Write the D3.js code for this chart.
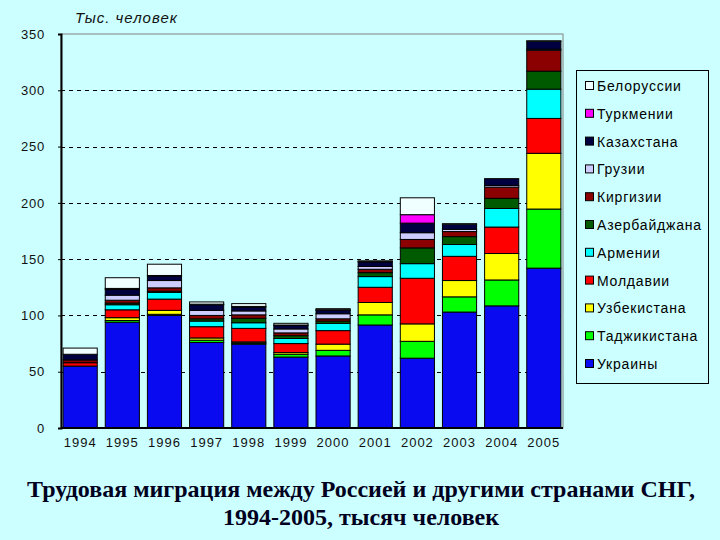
<!DOCTYPE html>
<html>
<head>
<meta charset="utf-8">
<script src="https://cdn.jsdelivr.net/npm/d3@7"></script>
<style>
  body { margin: 0; background: #ccffff; }
  svg { display: block; }
</style>
</head>
<body>
<svg id="chart" width="720" height="540"></svg>
<script>
const years = ['1994', '1995', '1996', '1997', '1998', '1999', '2000', '2001', '2002', '2003', '2004', '2005'];

// thousand people, stacked bottom to top
const ukraine    = [55, 94, 100, 76, 74.5, 63, 64, 91.5, 62, 103, 108.5, 142];
const tajik      = [0, 1.5, 1, 2, 1, 2.5, 5, 9, 15, 13.5, 23, 52.5];
const uzbek      = [0, 2.5, 3.5, 2, 1, 1.5, 5.5, 11, 15.5, 14.5, 23.5, 49.5];
const moldova    = [3, 7, 10, 10, 12, 8, 12, 13.5, 40.5, 21.5, 23.5, 31];
const armenia    = [0, 4.5, 6, 5, 5, 4.5, 6.5, 9.5, 13, 10.5, 16.5, 26];
const azerbaijan = [0, 1.5, 1, 2, 4, 2.5, 2, 3.5, 14, 7, 9, 16];
const kyrgyzstan = [2.5, 2.5, 3, 3, 3, 2.5, 2, 3, 7.5, 4.5, 10, 18.5];
const georgia    = [0, 4.5, 6.5, 4.5, 3.5, 3.5, 4.5, 2.5, 6, 2, 1.5, 1];
const kazakhstan = [5, 5, 4, 5, 3.5, 3, 3, 4, 8.5, 4.5, 6, 7];
const turkmen    = [0, 1, 0.5, 0.5, 0.5, 0.5, 0.5, 0.5, 7.5, 0, 0, 0];
const belarus    = [5.5, 9.5, 10, 2, 2.5, 1.5, 1, 0.5, 15, 0.5, 0, 0.5];

const seriesNames = ['Украины', 'Таджикистана', 'Узбекистана', 'Молдавии', 'Армении',
  'Азербайджана', 'Киргизии', 'Грузии', 'Казахстана', 'Туркмении', 'Белоруссии'];
const seriesValues = [ukraine, tajik, uzbek, moldova, armenia, azerbaijan,
  kyrgyzstan, georgia, kazakhstan, turkmen, belarus];
const colors = ['#0a0af0', '#00ff00', '#ffff00', '#ff0000', '#00ffff',
  '#005a00', '#8b0000', '#ccccff', '#000040', '#ff00ff', '#f0ffff'];
const yTicks = [0, 50, 100, 150, 200, 250, 300, 350];

const svg = d3.select('#chart');
const plot = { left: 61, right: 563, top: 34, bottom: 428 };
const sans = 'Liberation Sans, Arial, sans-serif';

const table = years.map((year, i) => {
  const row = { year };
  seriesNames.forEach((name, k) => { row[name] = seriesValues[k][i]; });
  return row;
});
const stacked = d3.stack().keys(seriesNames)(table);

const x = d3.scaleBand()
  .domain(years)
  .range([plot.left, plot.right])
  .paddingInner(0.19)
  .paddingOuter(0.05);

const y = d3.scaleLinear()
  .domain([0, 350])
  .range([plot.bottom, plot.top]);

// plot frame (thin grey at top and right)
svg.append('rect')
  .attr('x', plot.left)
  .attr('y', plot.top)
  .attr('width', plot.right - plot.left)
  .attr('height', plot.bottom - plot.top)
  .attr('fill', '#ccffff')
  .attr('stroke', '#808080')
  .attr('stroke-width', 1);

// dashed grid
svg.append('g')
  .selectAll('line')
  .data(yTicks.filter(d => d > 0 && d < 350))
  .join('line')
  .attr('x1', plot.left)
  .attr('x2', plot.right)
  .attr('y1', d => Math.round(y(d)) + 0.5)
  .attr('y2', d => Math.round(y(d)) + 0.5)
  .attr('stroke', '#000')
  .attr('stroke-dasharray', '4,4');

// stacked bars
svg.append('g')
  .selectAll('g')
  .data(stacked)
  .join('g')
  .attr('fill', (d, i) => colors[i])
  .selectAll('rect')
  .data(d => d.filter(s => s[1] - s[0] > 0))
  .join('rect')
  .attr('x', d => x(d.data.year))
  .attr('y', d => y(d[1]))
  .attr('width', x.bandwidth())
  .attr('height', d => y(d[0]) - y(d[1]))
  .attr('stroke', '#000')
  .attr('stroke-width', 1);

// axes
const yAxis = svg.append('g')
  .attr('transform', `translate(${plot.left},0)`)
  .call(d3.axisLeft(y).tickValues(yTicks).tickSize(3).tickPadding(13));
yAxis.select('.domain').attr('stroke', '#000').attr('stroke-width', 2);
yAxis.selectAll('text')
  .attr('font-family', sans)
  .attr('font-size', 13)
  .attr('letter-spacing', 0.8)
  .attr('fill', '#111');

const xAxis = svg.append('g')
  .attr('transform', `translate(0,${plot.bottom})`)
  .call(d3.axisBottom(x).tickSize(0).tickPadding(10));
xAxis.select('.domain').attr('stroke', '#000').attr('stroke-width', 2)
  .attr('d', `M${plot.left},0H${plot.right}`);
xAxis.selectAll('text')
  .attr('font-family', sans)
  .attr('font-size', 13)
  .attr('letter-spacing', 1)
  .attr('fill', '#111');

// axis title
svg.append('text')
  .attr('x', 75)
  .attr('y', 23)
  .attr('font-family', sans)
  .attr('font-size', 15)
  .attr('font-style', 'italic')
  .attr('letter-spacing', 1)
  .attr('fill', '#111')
  .text('Тыс. человек');

// legend, top entry is the last series
const legend = svg.append('g');
legend.append('rect')
  .attr('x', 576.5)
  .attr('y', 70.5)
  .attr('width', 132)
  .attr('height', 313)
  .attr('fill', '#ccffff')
  .attr('stroke', '#000');

const legendItems = legend.selectAll('g.item')
  .data(seriesNames.map((name, i) => ({ name, color: colors[i] })).reverse())
  .join('g')
  .attr('class', 'item')
  .attr('transform', (d, i) => `translate(585,${86 + i * 27.8})`);
legendItems.append('rect')
  .attr('x', 0.5)
  .attr('y', -4.5)
  .attr('width', 8)
  .attr('height', 8)
  .attr('fill', d => d.color)
  .attr('stroke', '#000');
legendItems.append('text')
  .attr('x', 12)
  .attr('y', 5)
  .attr('font-family', sans)
  .attr('font-size', 14)
  .attr('letter-spacing', 0.8)
  .attr('fill', '#000')
  .text(d => d.name);

// caption
const caption = svg.append('text')
  .attr('text-anchor', 'middle')
  .attr('font-family', 'Liberation Serif, Times New Roman, serif')
  .attr('font-weight', 'bold')
  .attr('font-size', 24)
  .attr('fill', '#000020');
caption.append('tspan').attr('x', 361).attr('y', 497)
  .text('Трудовая миграция между Россией и другими странами СНГ,');
caption.append('tspan').attr('x', 361).attr('y', 525)
  .text('1994-2005, тысяч человек');
</script>
</body>
</html>
